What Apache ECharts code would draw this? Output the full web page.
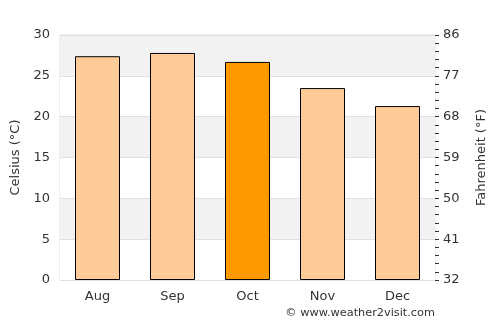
<!DOCTYPE html>
<html><head><meta charset="utf-8">
<script src="https://cdn.jsdelivr.net/npm/echarts@6/dist/echarts.min.js"></script>
<style>html,body{margin:0;padding:0;background:#fff}#c{width:500px;height:325px}</style>
</head><body><div id="c"></div>
<script>
var months = ['Aug', 'Sep', 'Oct', 'Nov', 'Dec'];
var celsius = [27.4, 27.8, 26.7, 23.5, 21.3];
var highlightIndex = 2;
var celsiusTicks = [0, 5, 10, 15, 20, 25, 30];

var chart = echarts.init(document.getElementById('c'), null, {renderer: 'canvas'});
var font = 'DejaVu Sans';
chart.setOption({
  animation: false,
  textStyle: {fontFamily: font},
  grid: {left: 60, right: 65, top: 35, bottom: 45, show: true, borderColor: '#dddddd', borderWidth: 1, backgroundColor: 'transparent'},
  xAxis: {
    type: 'category', data: months,
    axisLine: {show: false}, axisTick: {show: false},
    axisLabel: {color: '#333', fontSize: 13, margin: 10, fontFamily: font}
  },
  yAxis: [{
    type: 'value', min: 0, max: 30, interval: 5, position: 'left',
    name: 'Celsius (°C)', nameLocation: 'middle', nameGap: 28, nameRotate: 90,
    nameTextStyle: {color: '#333', fontSize: 13, fontFamily: font},
    axisLine: {show: false}, axisTick: {show: false},
    axisLabel: {color: '#333', fontSize: 13, margin: 10, fontFamily: font},
    splitLine: {show: true, lineStyle: {color: '#e0e0e0'}},
    splitArea: {show: true, areaStyle: {color: ['#ffffff', '#f2f2f2']}}
  }, {
    type: 'value', min: 0, max: 30, interval: 5, position: 'right',
    name: 'Fahrenheit (°F)', nameLocation: 'middle', nameGap: 40, nameRotate: 90,
    nameTextStyle: {color: '#333', fontSize: 13, fontFamily: font},
    axisLine: {show: false},
    axisTick: {show: true, length: 4, lineStyle: {color: '#333'}},
    minorTick: {show: true, splitNumber: 5, length: 4, lineStyle: {color: '#333'}},
    axisLabel: {color: '#333', fontSize: 13, margin: 8, fontFamily: font,
      formatter: function (v) { return String(Math.round(v * 9 / 5 + 32)); }},
    splitLine: {show: false}
  }],
  series: [{
    type: 'bar', yAxisIndex: 0, barWidth: '60%',
    data: celsius.map(function (v, i) {
      return {value: v, itemStyle: {color: i === highlightIndex ? '#ff9900' : '#ffcc99'}};
    }),
    itemStyle: {borderColor: '#000', borderWidth: 1}
  }],
  graphic: [{
    type: 'text', right: 65, top: 308,
    style: {text: '© www.weather2visit.com', fill: '#333', font: '11.3px "DejaVu Sans"'}
  }]
});
</script></body></html>
